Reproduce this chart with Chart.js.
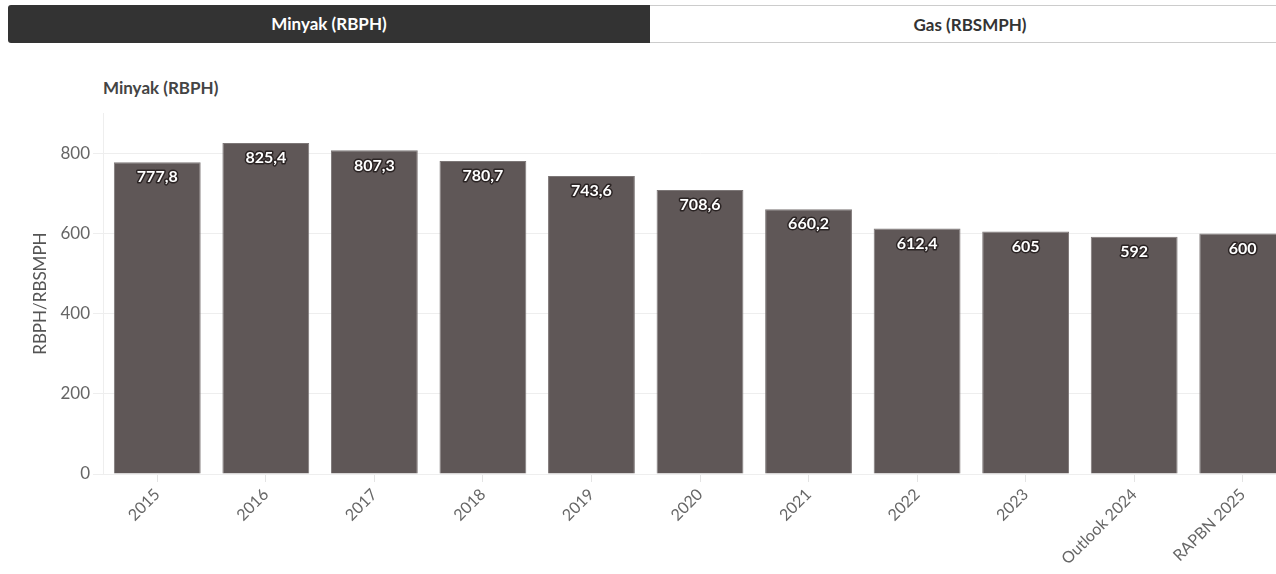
<!DOCTYPE html>
<html>
<head>
<meta charset="utf-8">
<script src="https://cdn.jsdelivr.net/npm/chart.js@4"></script>
<style>
    html, body { margin: 0; padding: 0; background: #fff; overflow: hidden; width: 1276px; height: 574px; }
    body { font-family: Lato, 'Noto Sans', sans-serif; position: relative; }
    .tab { position: absolute; top: 5px; height: 38px; line-height: 38px; text-align: center; font-weight: 700; font-size: 17px; box-sizing: border-box; }
    .tab-active { left: 8px; width: 642px; background: #333; color: #fff; border-radius: 3px 0 0 3px; }
    .tab-idle { left: 650px; width: 640px; background: #fff; color: #333; border-top: 1px solid #ccc; border-bottom: 1px solid #ccc; }
    .title { position: absolute; left: 103px; top: 77px; font-size: 17px; font-weight: 700; color: #444; }
    .wrap { position: absolute; left: 0; top: 100px; width: 1297px; height: 474px; }
</style>
</head>
<body>
<div class="tab tab-active">Minyak (RBPH)</div>
<div class="tab tab-idle">Gas (RBSMPH)</div>
<div class="title">Minyak (RBPH)</div>
<div class="wrap"><canvas id="chart"></canvas></div>
<script>
    var categories = ['2015', '2016', '2017', '2018', '2019', '2020', '2021', '2022', '2023', 'Outlook 2024', 'RAPBN 2025'];
    var minyakValues = [777.8, 825.4, 807.3, 780.7, 743.6, 708.6, 660.2, 612.4, 605, 592, 600];
    var yTicks = [0, 200, 400, 600, 800];

    var fontFamily = "Lato, 'Noto Sans', sans-serif";

    function formatValue(value) {
        return String(value).replace('.', ',');
    }

    var barLabels = {
        id: 'barLabels',
        afterDatasetsDraw: function (chart) {
            var ctx = chart.ctx;
            var meta = chart.getDatasetMeta(0);

            ctx.save();
            ctx.font = '700 16px ' + fontFamily;
            ctx.textAlign = 'center';
            ctx.textBaseline = 'middle';
            ctx.lineJoin = 'round';

            meta.data.forEach(function (bar, index) {
                var text = formatValue(minyakValues[index]);
                var y = bar.y + 15;
                ctx.lineWidth = 3;
                ctx.strokeStyle = '#2b2424';
                ctx.strokeText(text, bar.x, y);
                ctx.fillStyle = '#ffffff';
                ctx.fillText(text, bar.x, y);
            });

            ctx.restore();
        }
    };

    new Chart(document.getElementById('chart'), {
        type: 'bar',
        data: {
            labels: categories,
            datasets: [{
                label: 'Minyak (RBPH)',
                data: minyakValues,
                backgroundColor: '#5f5757',
                borderColor: '#7d7777',
                borderWidth: 1,
                categoryPercentage: 1,
                barPercentage: 0.8
            }]
        },
        options: {
            responsive: true,
            maintainAspectRatio: false,
            animation: false,
            layout: { padding: { top: 10, right: 0, left: 30, bottom: 0 } },
            plugins: {
                legend: { display: false },
                tooltip: { enabled: false }
            },
            scales: {
                x: {
                    grid: { offset: false, drawOnChartArea: false, drawTicks: true, tickLength: 8, color: '#e4e4e4' },
                    border: { display: true, color: '#eeeeee' },
                    ticks: {
                        color: '#666',
                        font: { size: 16, family: fontFamily },
                        minRotation: 45,
                        maxRotation: 45,
                        autoSkip: false,
                        padding: 3
                    },
                    afterFit: function (scale) {
                        scale.height = 100;
                    }
                },
                y: {
                    min: 0,
                    max: 900,
                    grid: { color: '#eeeeee', tickLength: 10 },
                    border: { display: true, color: '#eeeeee' },
                    ticks: {
                        stepSize: 200,
                        includeBounds: false,
                        color: '#666',
                        padding: 3,
                        font: { size: 17, family: fontFamily },
                        callback: function (value) {
                            return yTicks.indexOf(value) >= 0 ? value : null;
                        }
                    },
                    title: {
                        display: true,
                        text: 'RBPH/RBSMPH',
                        color: '#555',
                        padding: { top: 0, bottom: 0 },
                        font: { size: 17, family: fontFamily }
                    },
                    afterFit: function (scale) {
                        scale.width = 73;
                    }
                }
            }
        },
        plugins: [barLabels]
    });
</script>
</body>
</html>
